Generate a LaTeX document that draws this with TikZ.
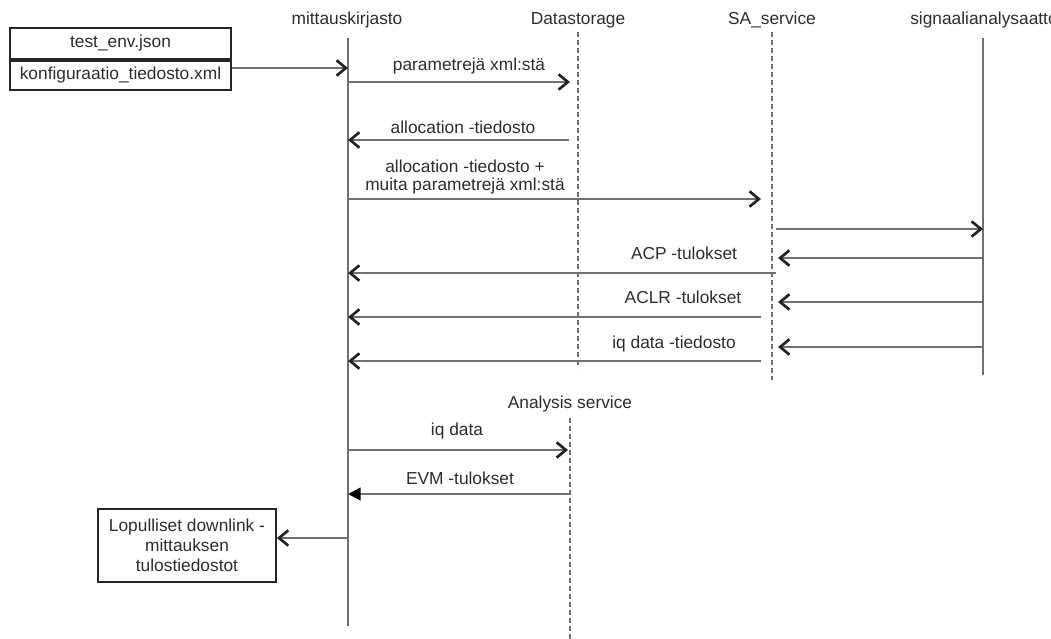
\documentclass[tikz,border=0pt]{standalone}
\usepackage{fontspec}
\setmainfont{Liberation Sans}
\usetikzlibrary{arrows.meta}
\definecolor{txt}{RGB}{45,45,45}
\definecolor{ln}{RGB}{112,112,112}
\definecolor{tipc}{RGB}{35,35,35}

\begin{document}
\begin{tikzpicture}[x=0.75pt,y=-0.75pt,
  lbl/.style={text=txt, font=\fontsize{13}{13}\selectfont, inner sep=0pt, anchor=base},
  mlbl/.style={text=txt, font=\fontsize{13}{13.2}\selectfont, inner sep=0pt, align=center},
  life/.style={draw=ln, line width=1.7pt},
  dlife/.style={draw=ln, line width=1.3pt, dash pattern=on 3.5pt off 2.5pt},
  msg/.style={draw=ln, line width=1.7pt,
    -{Straight Barb[length=7pt,width=11.5pt,line width=2pt,color=tipc]}},
  fmsg/.style={draw=ln, line width=1.7pt,
    -{Triangle[length=9.5pt,width=9.5pt,color=black]}},
  filebox/.style={draw=black!85, line width=1.3pt, text=txt, inner sep=0pt,
    font=\fontsize{13}{13}\selectfont, text height=9.3pt, text depth=2.7pt,
    minimum width=165.75pt},
  outbox/.style={draw=black!85, line width=1.3pt, text=txt, inner sep=0pt,
    font=\fontsize{13}{15}\selectfont, align=center,
    minimum width=133.5pt, minimum height=54.75pt}
]
\useasboundingbox (0,0) rectangle (1051,639);
\clip (0,0) rectangle (1051,639);

% participant headings
\node[lbl] (hm) at (347,24) {mittauskirjasto};
\node[lbl] (hd) at (578,24) {Datastorage};
\node[lbl] (hs) at (772,24) {SA\_service};
\node[lbl, anchor=base west] (ha) at (910,24) {signaalianalysaattori};
\node[lbl] (hx) at (570,408) {Analysis service};

% lifelines
\coordinate (m0) at (348,38);  \coordinate (m1) at (348,626);
\coordinate (d0) at (578,32);  \coordinate (d1) at (578,368);
\coordinate (s0) at (772,32);  \coordinate (s1) at (772,380);
\coordinate (a0) at (983,38);  \coordinate (a1) at (983,375);
\coordinate (x0) at (570,418); \coordinate (x1) at (570,639);
\draw[life]  (m0) -- (m1);
\draw[dlife] (d0) -- (d1);
\draw[dlife] (s0) -- (s1);
\draw[life]  (a0) -- (a1);
\draw[dlife] (x0) -- (x1);

% input files
\node[filebox, minimum height=23.25pt] (env) at (120.5,43.5) {test\_env.json};
\node[filebox, minimum height=21.75pt, anchor=north] (conf) at (env.south) {konfiguraatio\_tiedosto.xml};

% message end points
\coordinate (c1) at (348,68);
\coordinate (p2a) at (348,82);  \coordinate (p2b) at (570,82);
\coordinate (p3a) at (569,140); \coordinate (p3b) at (348,140);
\coordinate (p4a) at (348,199); \coordinate (p4b) at (761,199);
\coordinate (p5a) at (776,229); \coordinate (p5b) at (983,229);
\coordinate (p6a) at (983,258); \coordinate (p6b) at (778,258);
\coordinate (p6c) at (776,273); \coordinate (p6d) at (348,273);
\coordinate (p7a) at (983,302); \coordinate (p7b) at (778,302);
\coordinate (p7c) at (761,317); \coordinate (p7d) at (348,317);
\coordinate (p8a) at (983,347); \coordinate (p8b) at (778,347);
\coordinate (p8c) at (761,361); \coordinate (p8d) at (348,361);
\coordinate (p9a) at (348,450); \coordinate (p9b) at (568,450);
\coordinate (q1a) at (570,494); \coordinate (q1b) at (348,494);
\coordinate (q2a) at (348,538);

% messages
\draw[msg] (conf.east |- c1) -- (c1);
\draw[msg] (p2a) -- (p2b);
\node[lbl] (l2) at (469,70) {parametrejä xml:stä};
\draw[msg] (p3a) -- (p3b);
\node[lbl] (l3) at (463,133) {allocation -tiedosto};
\draw[msg] (p4a) -- (p4b);
\node[mlbl] (l4) at (465,177) {allocation -tiedosto +\\muita parametrejä xml:stä};
\draw[msg] (p5a) -- (p5b);

\draw[msg] (p6a) -- (p6b);
\draw[msg] (p6c) -- (p6d);
\node[lbl] (l6) at (684,259) {ACP -tulokset};
\draw[msg] (p7a) -- (p7b);
\draw[msg] (p7c) -- (p7d);
\node[lbl] (l7) at (683,303) {ACLR -tulokset};
\draw[msg] (p8a) -- (p8b);
\draw[msg] (p8c) -- (p8d);
\node[lbl] (l8) at (674,348) {iq data -tiedosto};

\draw[msg] (p9a) -- (p9b);
\node[lbl] (l9) at (457,435) {iq data};
\draw[fmsg] (q1a) -- (q1b);
\node[lbl] (l10) at (460,484) {EVM -tulokset};

% results
\node[outbox] (out) at (187,545.5) {Lopulliset downlink -\\mittauksen\\tulostiedostot};
\draw[msg] (q2a) -- (out.east |- q2a);
\end{tikzpicture}
\end{document}
